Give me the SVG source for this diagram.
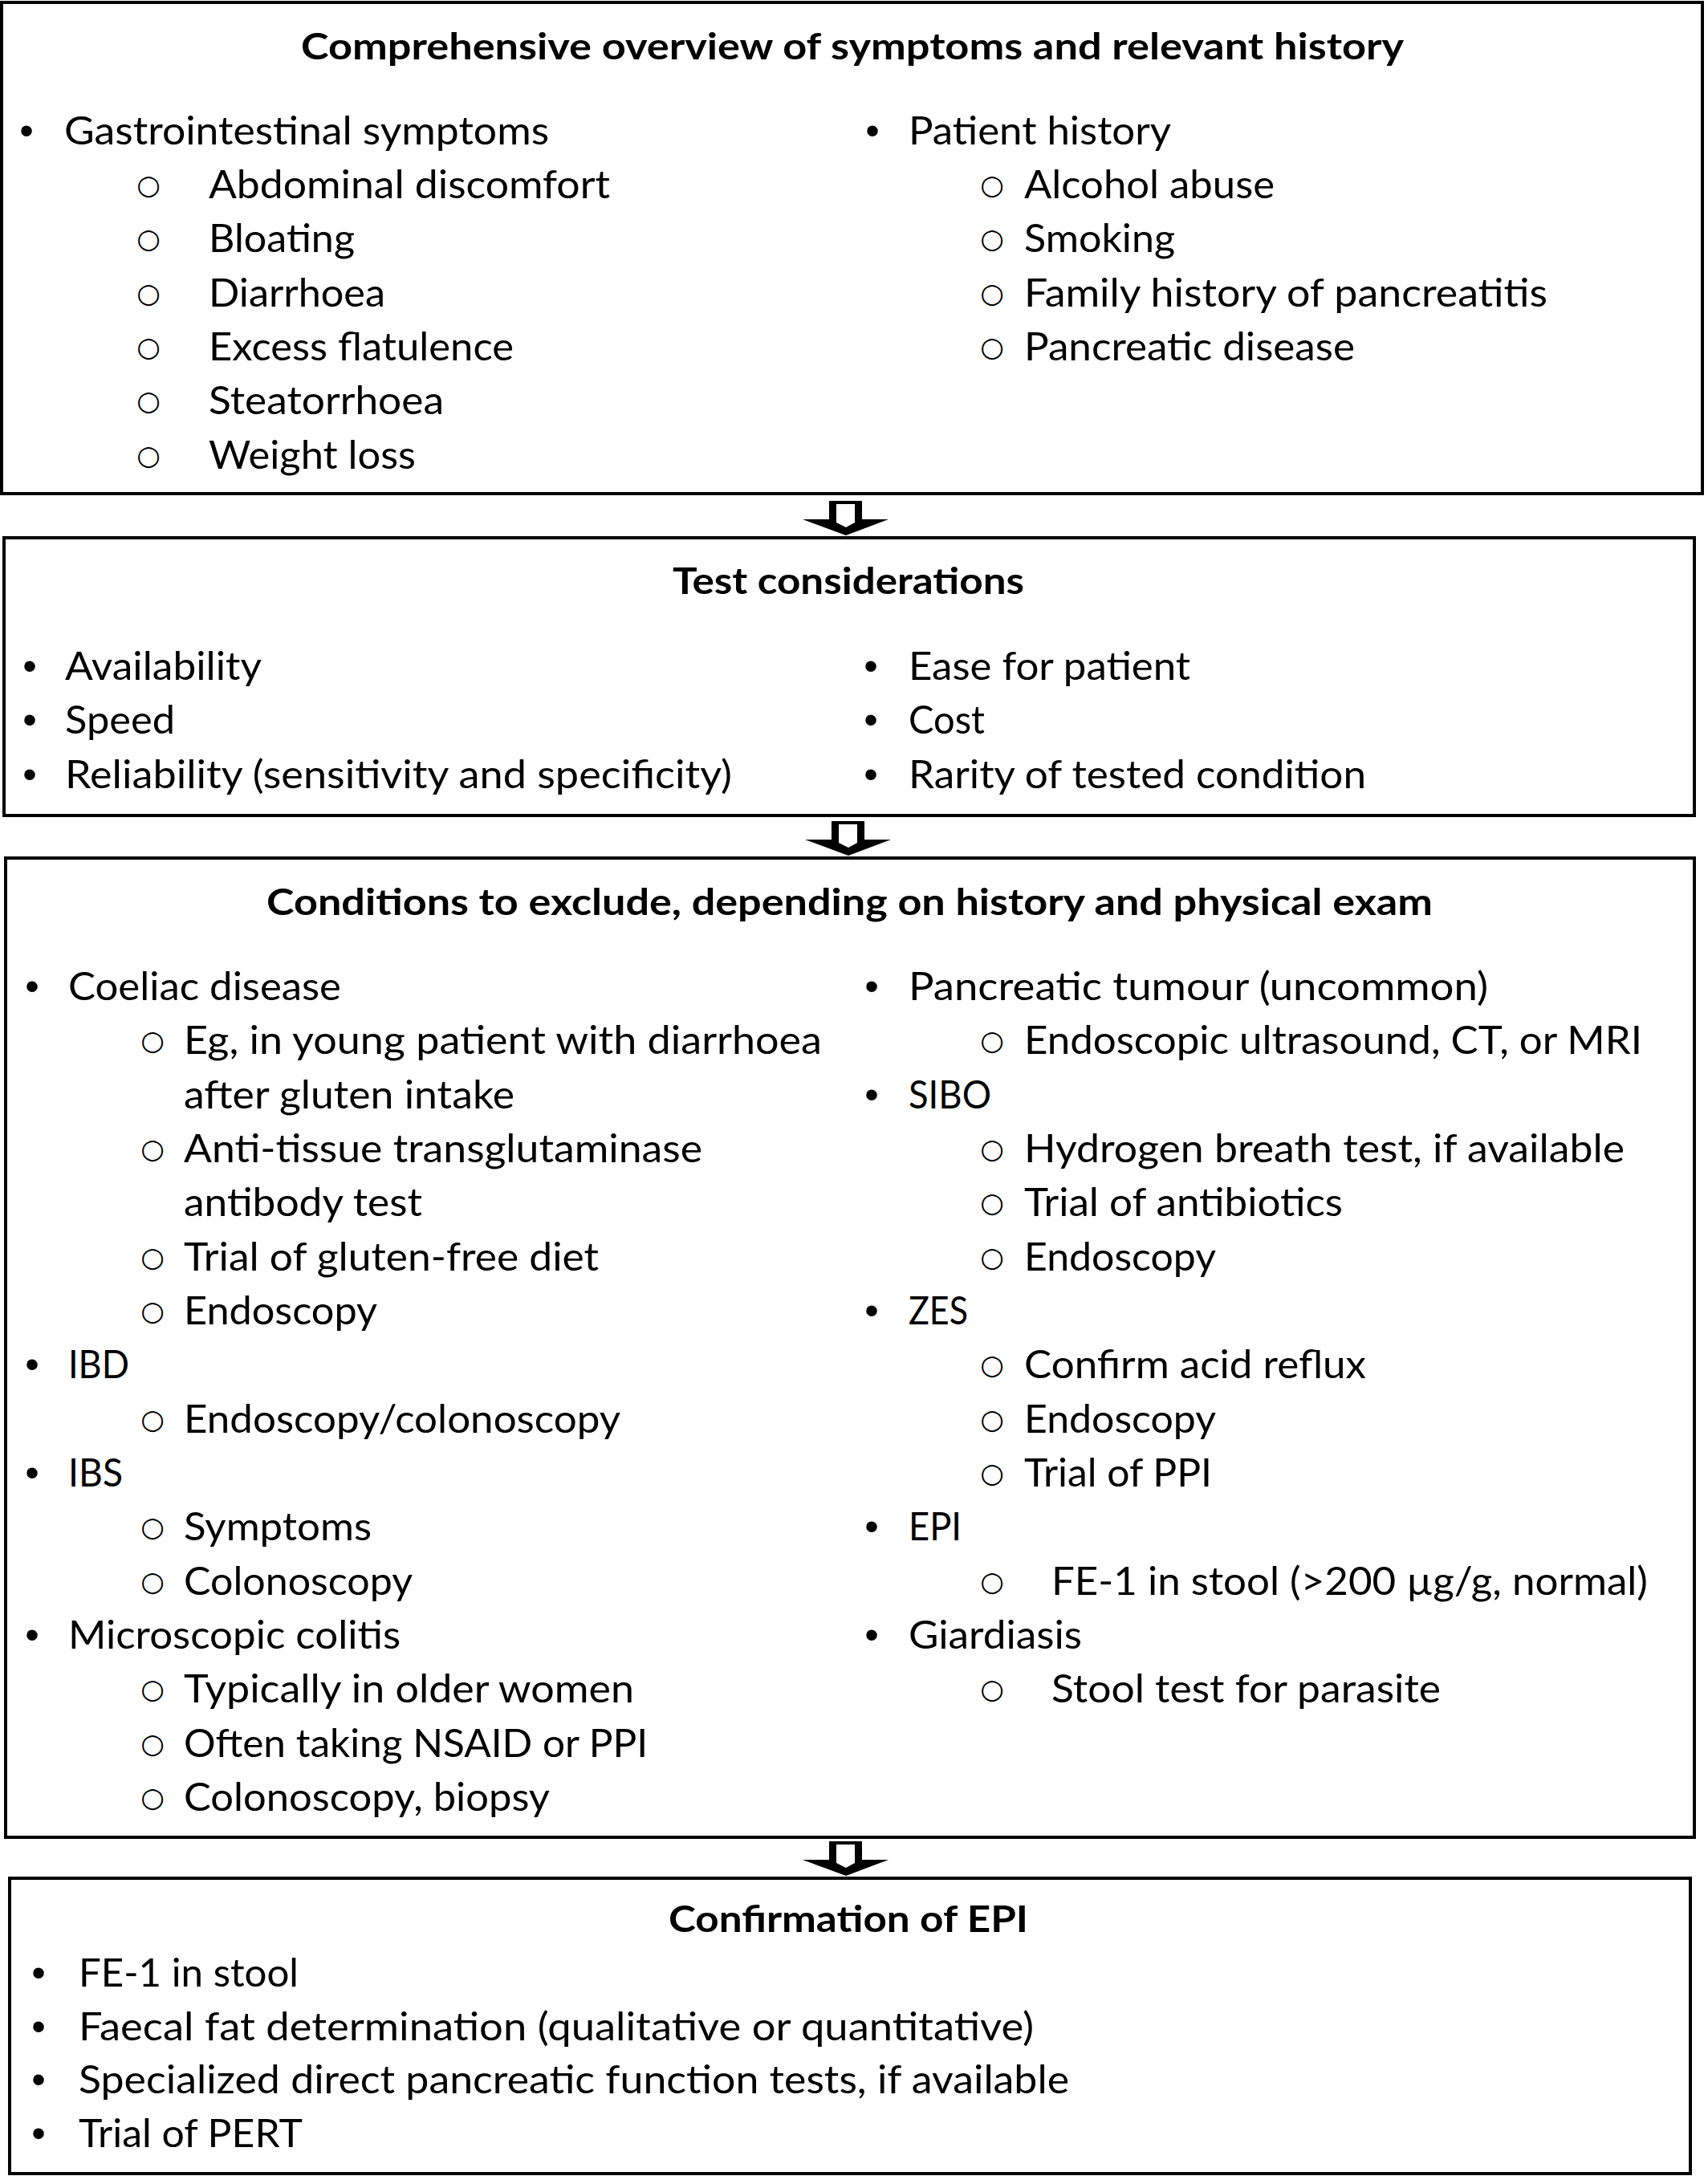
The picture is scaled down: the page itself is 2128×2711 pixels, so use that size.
<svg xmlns="http://www.w3.org/2000/svg" xmlns:xlink="http://www.w3.org/1999/xlink" width="2128" height="2711" viewBox="0 0 2128 2711">
<style>
.box{fill:#fff;stroke:#000;stroke-width:4}
text{font-family:Lato,"Liberation Sans",sans-serif;fill:#000}
.t{font-size:49px}
.h{font-size:46px;font-weight:bold}
.b{font-family:"Liberation Sans",sans-serif;font-size:50px;text-anchor:middle}
.o{font-family:"DejaVu Sans",sans-serif;font-size:34px;text-anchor:middle;transform:translate(0px,-5px)}
</style>
<defs>
<g id="blockArrow">
<polygon points="-21,0 20,0 20,23 53,23 0,43 -54,23 -21,23" fill="#000"/>
<polygon points="-12,4 11,4 11,27 0,33 -12,27" fill="#fff"/>
</g>
</defs>
<rect width="2128" height="2711" fill="#fff"/>

<g id="box1">
<rect class="box" x="2" y="3" width="2119" height="612"/>
<text class="h" x="375" y="74" textLength="1374" lengthAdjust="spacingAndGlyphs">Comprehensive overview of symptoms and relevant history</text>
<text class="b" x="33" y="180">•</text>
<text class="t" x="80" y="180" textLength="604" lengthAdjust="spacingAndGlyphs">Gastrointestinal symptoms</text>
<text class="o" x="185" y="247">○</text>
<text class="t" x="260" y="247" textLength="500" lengthAdjust="spacingAndGlyphs">Abdominal discomfort</text>
<text class="o" x="185" y="314">○</text>
<text class="t" x="260" y="314" textLength="182" lengthAdjust="spacingAndGlyphs">Bloating</text>
<text class="o" x="185" y="382">○</text>
<text class="t" x="260" y="382" textLength="220" lengthAdjust="spacingAndGlyphs">Diarrhoea</text>
<text class="o" x="185" y="449">○</text>
<text class="t" x="260" y="449" textLength="380" lengthAdjust="spacingAndGlyphs">Excess flatulence</text>
<text class="o" x="185" y="516">○</text>
<text class="t" x="260" y="516" textLength="293" lengthAdjust="spacingAndGlyphs">Steatorrhoea</text>
<text class="o" x="185" y="584">○</text>
<text class="t" x="260" y="584" textLength="258" lengthAdjust="spacingAndGlyphs">Weight loss</text>
<text class="b" x="1087" y="180">•</text>
<text class="t" x="1132" y="180" textLength="327" lengthAdjust="spacingAndGlyphs">Patient history</text>
<text class="o" x="1236" y="247">○</text>
<text class="t" x="1276" y="247" textLength="312" lengthAdjust="spacingAndGlyphs">Alcohol abuse</text>
<text class="o" x="1236" y="314">○</text>
<text class="t" x="1276" y="314" textLength="188" lengthAdjust="spacingAndGlyphs">Smoking</text>
<text class="o" x="1236" y="382">○</text>
<text class="t" x="1276" y="382" textLength="652" lengthAdjust="spacingAndGlyphs">Family history of pancreatitis</text>
<text class="o" x="1236" y="449">○</text>
<text class="t" x="1276" y="449" textLength="412" lengthAdjust="spacingAndGlyphs">Pancreatic disease</text>
</g>

<g id="box2">
<rect class="box" x="5" y="670" width="2106" height="346"/>
<text class="h" x="838" y="740" textLength="438" lengthAdjust="spacingAndGlyphs">Test considerations</text>
<text class="b" x="37" y="847">•</text>
<text class="t" x="81" y="847" textLength="245" lengthAdjust="spacingAndGlyphs">Availability</text>
<text class="b" x="37" y="914">•</text>
<text class="t" x="81" y="914" textLength="137" lengthAdjust="spacingAndGlyphs">Speed</text>
<text class="b" x="37" y="982">•</text>
<text class="t" x="81" y="982" textLength="831" lengthAdjust="spacingAndGlyphs">Reliability (sensitivity and specificity)</text>
<text class="b" x="1085" y="847">•</text>
<text class="t" x="1132" y="847" textLength="351" lengthAdjust="spacingAndGlyphs">Ease for patient</text>
<text class="b" x="1085" y="914">•</text>
<text class="t" x="1132" y="914" textLength="95" lengthAdjust="spacingAndGlyphs">Cost</text>
<text class="b" x="1085" y="982">•</text>
<text class="t" x="1132" y="982" textLength="570" lengthAdjust="spacingAndGlyphs">Rarity of tested condition</text>
</g>

<g id="box3">
<rect class="box" x="7" y="1069" width="2104" height="1220"/>
<text class="h" x="332" y="1140" textLength="1453" lengthAdjust="spacingAndGlyphs">Conditions to exclude, depending on history and physical exam</text>
<text class="b" x="40" y="1246">•</text>
<text class="t" x="85" y="1246" textLength="340" lengthAdjust="spacingAndGlyphs">Coeliac disease</text>
<text class="o" x="190" y="1313">○</text>
<text class="t" x="229" y="1313" textLength="795" lengthAdjust="spacingAndGlyphs">Eg, in young patient with diarrhoea</text>
<text class="t" x="229" y="1381" textLength="412" lengthAdjust="spacingAndGlyphs">after gluten intake</text>
<text class="o" x="190" y="1448">○</text>
<text class="t" x="229" y="1448" textLength="646" lengthAdjust="spacingAndGlyphs">Anti-tissue transglutaminase</text>
<text class="t" x="229" y="1515" textLength="297" lengthAdjust="spacingAndGlyphs">antibody test</text>
<text class="o" x="190" y="1583">○</text>
<text class="t" x="229" y="1583" textLength="517" lengthAdjust="spacingAndGlyphs">Trial of gluten-free diet</text>
<text class="o" x="190" y="1650">○</text>
<text class="t" x="229" y="1650" textLength="241" lengthAdjust="spacingAndGlyphs">Endoscopy</text>
<text class="b" x="40" y="1717">•</text>
<text class="t" x="85" y="1717" textLength="76" lengthAdjust="spacingAndGlyphs">IBD</text>
<text class="o" x="190" y="1785">○</text>
<text class="t" x="229" y="1785" textLength="544" lengthAdjust="spacingAndGlyphs">Endoscopy/colonoscopy</text>
<text class="b" x="40" y="1852">•</text>
<text class="t" x="85" y="1852" textLength="68" lengthAdjust="spacingAndGlyphs">IBS</text>
<text class="o" x="190" y="1919">○</text>
<text class="t" x="229" y="1919" textLength="234" lengthAdjust="spacingAndGlyphs">Symptoms</text>
<text class="o" x="190" y="1987">○</text>
<text class="t" x="229" y="1987" textLength="285" lengthAdjust="spacingAndGlyphs">Colonoscopy</text>
<text class="b" x="40" y="2054">•</text>
<text class="t" x="85" y="2054" textLength="414" lengthAdjust="spacingAndGlyphs">Microscopic colitis</text>
<text class="o" x="190" y="2121">○</text>
<text class="t" x="229" y="2121" textLength="561" lengthAdjust="spacingAndGlyphs">Typically in older women</text>
<text class="o" x="190" y="2189">○</text>
<text class="t" x="229" y="2189" textLength="578" lengthAdjust="spacingAndGlyphs">Often taking NSAID or PPI</text>
<text class="o" x="190" y="2256">○</text>
<text class="t" x="229" y="2256" textLength="456" lengthAdjust="spacingAndGlyphs">Colonoscopy, biopsy</text>

<text class="b" x="1086" y="1246">•</text>
<text class="t" x="1132" y="1246" textLength="722" lengthAdjust="spacingAndGlyphs">Pancreatic tumour (uncommon)</text>
<text class="o" x="1236" y="1313">○</text>
<text class="t" x="1276" y="1313" textLength="770" lengthAdjust="spacingAndGlyphs">Endoscopic ultrasound, CT, or MRI</text>
<text class="b" x="1086" y="1381">•</text>
<text class="t" x="1132" y="1381" textLength="103" lengthAdjust="spacingAndGlyphs">SIBO</text>
<text class="o" x="1236" y="1448">○</text>
<text class="t" x="1276" y="1448" textLength="748" lengthAdjust="spacingAndGlyphs">Hydrogen breath test, if available</text>
<text class="o" x="1236" y="1515">○</text>
<text class="t" x="1276" y="1515" textLength="397" lengthAdjust="spacingAndGlyphs">Trial of antibiotics</text>
<text class="o" x="1236" y="1583">○</text>
<text class="t" x="1276" y="1583" textLength="239" lengthAdjust="spacingAndGlyphs">Endoscopy</text>
<text class="b" x="1086" y="1650">•</text>
<text class="t" x="1132" y="1650" textLength="74" lengthAdjust="spacingAndGlyphs">ZES</text>
<text class="o" x="1236" y="1717">○</text>
<text class="t" x="1276" y="1717" textLength="426" lengthAdjust="spacingAndGlyphs">Confirm acid reflux</text>
<text class="o" x="1236" y="1785">○</text>
<text class="t" x="1276" y="1785" textLength="239" lengthAdjust="spacingAndGlyphs">Endoscopy</text>
<text class="o" x="1236" y="1852">○</text>
<text class="t" x="1276" y="1852" textLength="234" lengthAdjust="spacingAndGlyphs">Trial of PPI</text>
<text class="b" x="1086" y="1919">•</text>
<text class="t" x="1132" y="1919" textLength="66" lengthAdjust="spacingAndGlyphs">EPI</text>
<text class="o" x="1236" y="1987">○</text>
<text class="t" x="1310" y="1987" textLength="743" lengthAdjust="spacingAndGlyphs">FE-1 in stool (&gt;200 µg/g, normal)</text>
<text class="b" x="1086" y="2054">•</text>
<text class="t" x="1132" y="2054" textLength="216" lengthAdjust="spacingAndGlyphs">Giardiasis</text>
<text class="o" x="1236" y="2121">○</text>
<text class="t" x="1310" y="2121" textLength="485" lengthAdjust="spacingAndGlyphs">Stool test for parasite</text>
</g>

<g id="box4">
<rect class="box" x="12" y="2340" width="2094" height="368"/>
<text class="h" x="833" y="2407" textLength="448" lengthAdjust="spacingAndGlyphs">Confirmation of EPI</text>
<text class="b" x="48" y="2475">•</text>
<text class="t" x="98" y="2475" textLength="274" lengthAdjust="spacingAndGlyphs">FE-1 in stool</text>
<text class="b" x="48" y="2542">•</text>
<text class="t" x="98" y="2542" textLength="1190" lengthAdjust="spacingAndGlyphs">Faecal fat determination (qualitative or quantitative)</text>
<text class="b" x="48" y="2608">•</text>
<text class="t" x="98" y="2608" textLength="1234" lengthAdjust="spacingAndGlyphs">Specialized direct pancreatic function tests, if available</text>
<text class="b" x="48" y="2675">•</text>
<text class="t" x="98" y="2675" textLength="279" lengthAdjust="spacingAndGlyphs">Trial of PERT</text>
</g>

<g id="connectors">
<use xlink:href="#blockArrow" transform="translate(1054,624)"/>
<use xlink:href="#blockArrow" transform="translate(1057,1023)"/>
<use xlink:href="#blockArrow" transform="translate(1054,2294)"/>
</g>
</svg>
